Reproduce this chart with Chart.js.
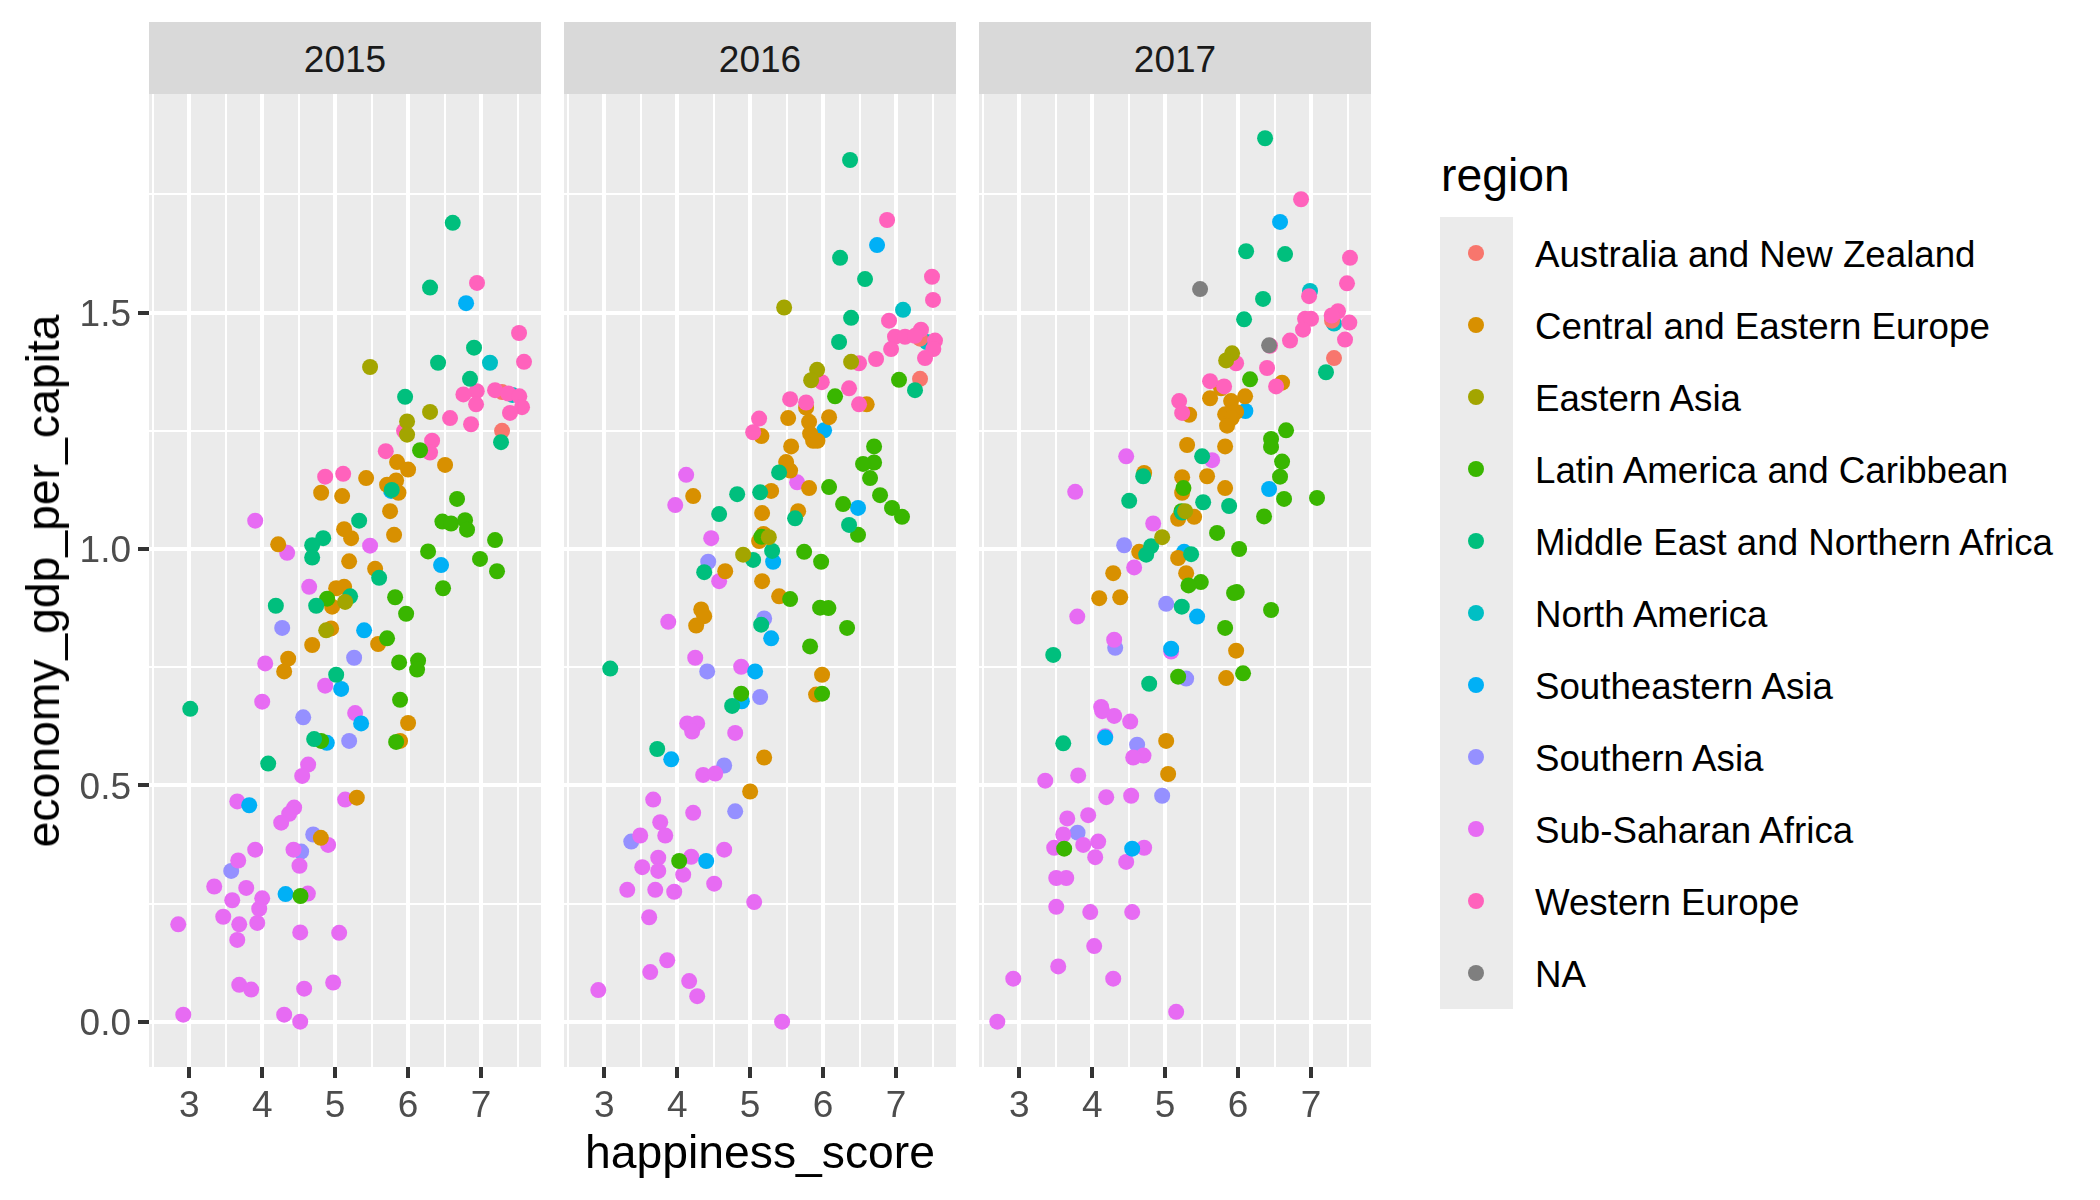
<!DOCTYPE html>
<html>
<head>
<meta charset="utf-8">
<script src="https://cdn.jsdelivr.net/npm/chart.js@4"></script>
<style>
html,body{margin:0;padding:0;background:#fff;width:2100px;height:1200px;overflow:hidden;font-family:"Liberation Sans",Arial,sans-serif}
canvas{position:absolute;display:block}
.abs{position:absolute;white-space:nowrap}
.strip{background:#D9D9D9;color:#1A1A1A;font-size:37px;text-align:center;top:22px;height:72px;line-height:76px;width:392px}
.axt{font-size:46.3px;color:#000;line-height:56px}
#key{left:1440px;top:217px;width:73px;height:792px;background:#EBEBEB}
.dot{position:absolute;left:1468px;width:16px;height:16px;border-radius:50%}
.lab{left:1535px;font-size:36.7px;color:#000;height:72px;line-height:76px}
</style>
</head>
<body>
<div class="abs strip" style="left:149px" id="s0"></div>
<div class="abs strip" style="left:564px" id="s1"></div>
<div class="abs strip" style="left:979px" id="s2"></div>
<canvas id="c0" style="left:60px;top:94px" width="481" height="1040"></canvas>
<canvas id="c1" style="left:564px;top:94px" width="392" height="1040"></canvas>
<canvas id="c2" style="left:979px;top:94px" width="392" height="1040"></canvas>
<div class="abs axt" id="xt" style="left:760px;top:1124px;transform:translateX(-50%)"></div>
<div class="abs axt" id="yt" style="left:43px;top:581px;transform:translate(-50%,-50%) rotate(-90deg)"></div>
<div class="abs axt" id="lt" style="left:1441px;top:147px"></div>
<div class="abs" id="key"></div>
<div id="legend"></div>
<script>
const years = [2015, 2016, 2017];
const regions = ["Australia and New Zealand","Central and Eastern Europe","Eastern Asia","Latin America and Caribbean","Middle East and Northern Africa","North America","Southeastern Asia","Southern Asia","Sub-Saharan Africa","Western Europe","NA"];
const regionColors = ["#F8766D","#D89000","#A3A500","#39B600","#00BF7D","#00BFC4","#00B0F6","#9590FF","#E76BF3","#FF62BC","#7F7F7F"];
const xAxisTitle = "happiness_score";
const yAxisTitle = "economy_gdp_per_capita";
const legendTitle = "region";
const xGrid = [2.5,3,3.5,4,4.5,5,5.5,6,6.5,7,7.5];
const yGrid = [0,0.25,0.5,0.75,1,1.25,1.5,1.75];

// 2015
const anz2015 = [[7.288,1.332],[7.288,1.250]];
const cee2015 = [[5.849,1.184],[6.0,1.168],[6.507,1.178],[5.425,1.150],[5.836,1.145],[5.712,1.136],[5.868,1.119],[4.808,1.119],[5.096,1.112],[5.753,1.080],[5.123,1.042],[5.219,1.023],[5.808,1.030],[4.219,1.010],[5.192,0.974],[5.548,0.958],[5.014,0.917],[5.123,0.920],[4.959,0.878],[4.945,0.832],[4.685,0.797],[5.589,0.799],[4.356,0.768],[4.301,0.741],[6.0,0.632],[5.890,0.594],[5.297,0.474],[4.804,0.389]];
const eas2015 = [[5.479,1.385],[6.301,1.290],[5.986,1.270],[5.986,1.242],[5.137,0.888],[4.877,0.828]];
const lat2015 = [[6.164,1.209],[6.671,1.106],[6.470,1.058],[6.589,1.054],[6.781,1.061],[6.808,1.041],[7.192,1.019],[6.274,0.995],[6.986,0.979],[7.219,0.953],[6.479,0.917],[5.822,0.898],[4.890,0.895],[5.973,0.863],[5.712,0.811],[5.877,0.760],[6.137,0.764],[6.123,0.745],[5.890,0.681],[5.836,0.592],[4.808,0.594],[4.525,0.266]];
const mena2015 = [[6.612,1.690],[6.301,1.553],[6.904,1.426],[6.411,1.394],[6.849,1.360],[5.959,1.322],[7.274,1.226],[5.329,1.060],[4.836,1.023],[4.685,1.008],[4.685,0.982],[5.603,0.939],[5.776,1.125],[4.187,0.880],[4.740,0.880],[5.205,0.900],[5.014,0.734],[3.014,0.662],[4.712,0.598],[4.082,0.546]];
const nam2015 = [[7.123,1.394],[7.429,1.326]];
const sea2015 = [[6.795,1.520],[5.767,1.123],[6.452,0.966],[5.397,0.828],[5.082,0.704],[5.356,0.631],[4.886,0.590],[3.822,0.458],[4.320,0.270]];
const sas2015 = [[4.274,0.833],[5.26,0.770],[4.562,0.644],[5.192,0.594],[4.699,0.396],[4.534,0.360],[3.575,0.319]];
const ssa2015 = [[3.904,1.060],[4.342,0.992],[5.479,1.007],[4.644,0.920],[4.041,0.758],[4.863,0.711],[4.0,0.677],[5.274,0.653],[4.630,0.544],[4.548,0.520],[3.658,0.466],[5.137,0.470],[4.438,0.453],[4.370,0.440],[4.260,0.421],[4.904,0.374],[4.429,0.364],[3.904,0.364],[3.671,0.341],[4.511,0.330],[3.342,0.286],[3.781,0.283],[4.626,0.271],[3.589,0.257],[4.0,0.261],[3.959,0.239],[3.466,0.222],[3.685,0.206],[3.932,0.209],[2.849,0.206],[4.521,0.189],[5.055,0.188],[3.658,0.173],[4.973,0.083],[3.685,0.078],[3.849,0.068],[4.575,0.070],[2.918,0.015],[4.301,0.015],[4.521,0.0]];
const weu2015 = [[6.945,1.563],[7.521,1.457],[7.589,1.396],[6.758,1.327],[6.941,1.334],[6.932,1.306],[7.192,1.336],[7.374,1.329],[7.525,1.323],[7.562,1.300],[7.397,1.288],[6.575,1.277],[6.863,1.264],[5.945,1.250],[6.329,1.229],[6.301,1.204],[5.694,1.207],[5.110,1.159],[4.863,1.153]];
const na2015 = [];

// 2016
const anz2016 = [[7.329,1.445],[7.329,1.360]];
const cee2016 = [[5.767,1.299],[6.598,1.306],[6.082,1.279],[5.521,1.277],[5.808,1.269],[5.155,1.239],[5.822,1.244],[5.863,1.229],[5.922,1.229],[5.562,1.217],[5.493,1.184],[5.548,1.166],[5.288,1.123],[4.219,1.112],[5.808,1.129],[5.164,1.076],[5.658,1.080],[5.183,1.032],[5.123,1.017],[4.658,0.953],[5.164,0.932],[5.397,0.900],[4.329,0.872],[4.370,0.858],[4.260,0.838],[5.986,0.734],[5.904,0.692],[5.192,0.559],[5.0,0.487]];
const eas2016 = [[5.466,1.511],[6.384,1.396],[5.918,1.379],[5.836,1.357],[5.256,1.025],[4.904,0.988]];
const lat2016 = [[7.041,1.358],[6.164,1.323],[6.699,1.217],[6.699,1.183],[6.548,1.180],[6.644,1.150],[6.082,1.131],[6.781,1.114],[6.274,1.095],[6.945,1.087],[7.082,1.068],[6.479,1.030],[5.155,1.026],[5.740,0.994],[5.973,0.973],[5.548,0.894],[5.959,0.876],[6.073,0.875],[6.329,0.833],[5.822,0.794],[5.986,0.694],[4.877,0.694],[4.027,0.340]];
const mena2016 = [[6.370,1.823],[6.233,1.616],[6.575,1.571],[6.384,1.489],[6.219,1.438],[7.260,1.336],[5.397,1.162],[4.822,1.116],[5.137,1.120],[4.575,1.074],[5.616,1.065],[6.356,1.051],[5.301,0.996],[5.041,0.977],[4.370,0.951],[5.151,0.840],[4.753,0.668],[3.082,0.747],[3.726,0.577]];
const nam2016 = [[7.096,1.506],[7.420,1.438]];
const sea2016 = [[6.740,1.643],[6.014,1.251],[6.479,1.087],[5.315,0.973],[5.288,0.811],[5.068,0.741],[4.886,0.678],[3.918,0.555],[4.397,0.340]];
const sas2016 = [[4.425,0.973],[5.192,0.853],[4.411,0.741],[5.137,0.687],[4.644,0.542],[4.795,0.445],[3.370,0.381]];
const ssa2016 = [[4.123,1.157],[3.973,1.093],[5.644,1.141],[4.466,1.023],[4.575,0.932],[3.877,0.846],[4.247,0.770],[4.877,0.751],[4.137,0.631],[4.274,0.631],[4.205,0.614],[4.795,0.611],[4.356,0.522],[4.521,0.525],[3.671,0.470],[4.219,0.442],[3.767,0.422],[3.493,0.394],[3.836,0.394],[4.644,0.364],[3.740,0.347],[4.192,0.349],[3.521,0.327],[3.740,0.319],[4.082,0.311],[4.507,0.292],[3.315,0.279],[3.699,0.279],[3.959,0.275],[5.055,0.253],[3.616,0.221],[3.863,0.130],[3.630,0.105],[4.164,0.086],[2.918,0.067],[4.274,0.054],[5.438,0.0]];
const weu2016 = [[6.877,1.696],[7.493,1.576],[7.507,1.527],[6.904,1.483],[7.342,1.464],[6.986,1.449],[7.123,1.449],[7.260,1.451],[7.534,1.441],[7.511,1.423],[6.932,1.423],[7.397,1.404],[6.726,1.402],[6.493,1.393],[5.982,1.353],[6.356,1.340],[5.548,1.317],[5.767,1.310],[6.493,1.306],[5.123,1.276],[5.041,1.247]];
const na2016 = [];

// 2017
const anz2017 = [[7.288,1.483],[7.315,1.404]];
const cee2017 = [[6.603,1.352],[5.767,1.340],[5.616,1.319],[6.096,1.323],[5.904,1.313],[5.329,1.284],[5.822,1.285],[5.973,1.290],[5.913,1.277],[5.849,1.261],[5.301,1.220],[5.822,1.217],[4.712,1.161],[5.233,1.152],[5.575,1.154],[5.233,1.119],[5.822,1.129],[5.397,1.068],[5.178,1.064],[4.644,0.994],[5.178,0.981],[4.288,0.949],[5.288,0.949],[4.096,0.896],[4.384,0.898],[5.973,0.785],[5.836,0.727],[5.014,0.594],[5.041,0.524]];
const eas2017 = [[5.918,1.414],[5.836,1.399],[5.274,1.080],[4.959,1.025]];
const lat2017 = [[6.164,1.359],[6.658,1.251],[6.452,1.233],[6.452,1.216],[6.603,1.185],[6.575,1.153],[6.630,1.106],[7.082,1.108],[6.356,1.069],[5.251,1.129],[5.224,1.080],[5.712,1.034],[6.014,1.000],[5.489,0.930],[5.320,0.923],[5.982,0.909],[5.945,0.907],[6.452,0.871],[5.822,0.833],[6.068,0.737],[5.178,0.730],[3.616,0.366]];
const mena2017 = [[6.370,1.869],[6.110,1.630],[6.644,1.624],[6.342,1.529],[6.082,1.486],[7.205,1.374],[5.507,1.196],[4.699,1.154],[4.507,1.102],[5.521,1.099],[5.877,1.091],[5.233,1.077],[4.808,1.006],[4.740,0.988],[5.356,0.989],[5.228,0.878],[4.781,0.715],[3.466,0.776],[3.603,0.589]];
const nam2017 = [[6.986,1.546],[7.315,1.477]];
const sea2017 = [[6.575,1.692],[6.100,1.292],[6.425,1.127],[5.260,0.994],[5.438,0.857],[5.082,0.789],[4.178,0.601],[4.548,0.366]];
const sas2017 = [[4.438,1.008],[5.014,0.884],[4.315,0.791],[5.288,0.726],[4.616,0.586],[4.959,0.478],[3.799,0.400]];
const ssa2017 = [[4.466,1.196],[3.767,1.121],[5.644,1.188],[4.836,1.054],[4.575,0.961],[3.795,0.857],[4.301,0.808],[5.082,0.783],[4.123,0.666],[4.137,0.657],[4.301,0.647],[4.521,0.635],[4.178,0.604],[4.703,0.563],[4.562,0.559],[3.808,0.521],[3.356,0.510],[4.192,0.475],[4.534,0.478],[3.945,0.437],[3.658,0.430],[3.603,0.396],[4.082,0.381],[3.877,0.374],[3.479,0.368],[4.712,0.368],[4.041,0.348],[4.466,0.338],[3.507,0.304],[3.644,0.304],[3.507,0.243],[3.973,0.232],[4.548,0.232],[4.027,0.160],[3.534,0.117],[2.918,0.091],[4.288,0.091],[5.151,0.021],[2.699,0.0]];
const weu2017 = [[6.863,1.740],[7.534,1.616],[7.493,1.562],[6.973,1.535],[7.370,1.503],[7.283,1.494],[7.525,1.479],[6.918,1.487],[7.0,1.487],[6.890,1.464],[6.712,1.441],[7.466,1.443],[6.438,1.430],[5.973,1.393],[6.397,1.383],[5.808,1.344],[5.616,1.355],[6.521,1.344],[5.192,1.313],[5.233,1.288]];
const na2017 = [[5.479,1.550],[6.425,1.431]];

const panels = [
  [anz2015,cee2015,eas2015,lat2015,mena2015,nam2015,sea2015,sas2015,ssa2015,weu2015,na2015],
  [anz2016,cee2016,eas2016,lat2016,mena2016,nam2016,sea2016,sas2016,ssa2016,weu2016,na2016],
  [anz2017,cee2017,eas2017,lat2017,mena2017,nam2017,sea2017,sas2017,ssa2017,weu2017,na2017]
];
// region indexes from bottom-most to top-most layer
const layering = [5,0,7,8,6,1,9,3,4,2,10];

const panelFill = {
  id: "panelFill",
  beforeDraw(chart) {
    const a = chart.chartArea, c = chart.ctx;
    c.save(); c.fillStyle = "#EBEBEB"; c.fillRect(a.left, a.top, a.width, a.height); c.restore();
    // nudge the y tick labels down onto their gridlines
    if (!chart.$nudged) {
      chart.scales.y.getLabelItems().forEach(it => { it.options.translation[1] += 3; });
      chart.$nudged = true;
    }
  }
};
const isMajorX = v => Number.isInteger(v);
const isMajorY = v => Number.isInteger(v * 2);
const FONT = "'Liberation Sans', Arial, sans-serif";

panels.forEach((series, p) => {
  new Chart(document.getElementById("c" + p), {
    type: "scatter",
    plugins: [panelFill],
    data: {
      datasets: series.map((pts, r) => ({
        label: regions[r],
        data: pts.map(d => ({ x: d[0], y: d[1] })),
        backgroundColor: regionColors[r],
        borderWidth: 0,
        pointRadius: 8,
        pointHoverRadius: 8,
        order: layering.length - layering.indexOf(r)
      }))
    },
    options: {
      responsive: false,
      animation: false,
      devicePixelRatio: 1,
      layout: { padding: 0, autoPadding: false },
      plugins: { legend: { display: false }, tooltip: { enabled: false } },
      events: [],
      scales: {
        x: {
          type: "linear",
          min: 2.448, max: 7.822,
          afterBuildTicks: s => { s.ticks = xGrid.map(v => ({ value: v })); },
          afterFit: s => { s.height = 67; s.paddingLeft = 0; s.paddingRight = 0; s.paddingTop = 0; s.paddingBottom = 0; },
          border: { display: false },
          grid: {
            color: "#FFFFFF",
            lineWidth: c => isMajorX(c.tick.value) ? 4 : 2,
            tickLength: 11,
            tickWidth: 4,
            tickColor: c => isMajorX(c.tick.value) ? "#333333" : "rgba(0,0,0,0)"
          },
          ticks: {
            autoSkip: false, maxRotation: 0, minRotation: 0, padding: 7,
            color: "#4D4D4D", font: { family: FONT, size: 37 },
            callback: v => isMajorX(v) ? String(v) : ""
          }
        },
        y: {
          type: "linear",
          min: -0.0958, max: 1.9626,
          afterBuildTicks: s => { s.ticks = yGrid.map(v => ({ value: v })); },
          afterFit: s => { s.width = p === 0 ? 89 : 0; s.paddingLeft = 0; s.paddingRight = 0; s.paddingTop = 0; s.paddingBottom = 0; },
          border: { display: false },
          grid: {
            color: "#FFFFFF",
            lineWidth: c => isMajorY(c.tick.value) ? 4 : 2,
            drawTicks: p === 0,
            tickLength: 11,
            tickWidth: 4,
            tickColor: c => isMajorY(c.tick.value) ? "#333333" : "rgba(0,0,0,0)"
          },
          ticks: {
            display: p === 0,
            autoSkip: false, padding: 7,
            color: "#4D4D4D", font: { family: FONT, size: 37 },
            callback: v => isMajorY(v) ? v.toFixed(1) : ""
          }
        }
      }
    }
  });
  document.getElementById("s" + p).textContent = years[p];
});

document.getElementById("xt").textContent = xAxisTitle;
document.getElementById("yt").textContent = yAxisTitle;
document.getElementById("lt").textContent = legendTitle;
const lg = document.getElementById("legend");
regions.forEach((name, i) => {
  const top = 217 + 72 * i;
  const dot = document.createElement("div");
  dot.className = "dot";
  dot.style.top = (top + 28) + "px";
  dot.style.background = regionColors[i];
  lg.appendChild(dot);
  const t = document.createElement("div");
  t.className = "abs lab";
  t.style.top = top + "px";
  t.textContent = name;
  lg.appendChild(t);
});
</script>
</body>
</html>
